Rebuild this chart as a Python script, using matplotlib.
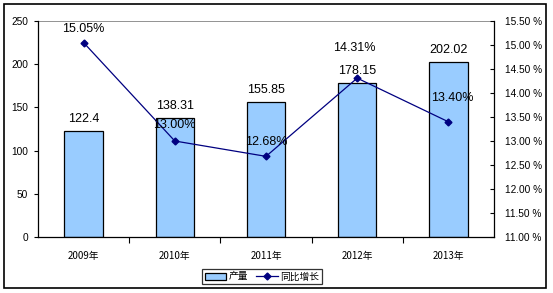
import matplotlib
matplotlib.use("Agg")
import matplotlib.pyplot as plt
from matplotlib.patches import Rectangle
from matplotlib.lines import Line2D

years = ["2009年", "2010年", "2011年", "2012年", "2013年"]
output = [122.4, 138.31, 155.85, 178.15, 202.02]
growth = [15.05, 13.00, 12.68, 14.31, 13.40]
left_ticks = [0, 50, 100, 150, 200, 250]
right_ticks = [11.0, 11.5, 12.0, 12.5, 13.0, 13.5, 14.0, 14.5, 15.0, 15.5]

# label offsets (pixels) for growth labels
pct_offsets = [(0, 14), (0, 16), (0, 14), (-3, 30), (4, 24)]

W, H = 553, 293
fig = plt.figure(figsize=(W / 100, H / 100), dpi=100)
fig.patch.set_facecolor("white")
fig.patches.append(Rectangle((4 / W, 1 - 288 / H), (546 - 4) / W, (288 - 4) / H,
                             transform=fig.transFigure, fill=False, edgecolor="black", lw=1.2))

font = "Liberation Sans"
cjk = ["Noto Sans CJK SC", "DejaVu Sans"]

ax = fig.add_axes([38 / W, 1 - 237 / H, (494 - 38) / W, (237 - 21) / H])
x = list(range(len(years)))
bars = ax.bar(x, output, width=0.42, color="#99CCFF", edgecolor="black", lw=0.9, zorder=2)
ax.set_xlim(-0.5, len(years) - 0.5)
ax.set_ylim(0, 250)
ax.set_yticks(left_ticks)
ax.set_yticklabels([str(t) for t in left_ticks], fontsize=7.3, family=font)
ax.set_xticks([i + 0.5 for i in range(len(years) - 1)])
ax.set_xticklabels([])
ax.set_xticks(x, minor=True)
ax.set_xticklabels(years, minor=True, fontsize=7, family=cjk)
ax.tick_params(axis="x", which="minor", length=0, pad=10)
ax.tick_params(axis="x", which="major", length=4, direction="out", width=0.8)
ax.tick_params(axis="y", length=3, direction="out", width=0.8, pad=4)
ax.axhline(250, color="#808080", lw=1.2, zorder=1)
for s in ["top", "right"]:
    ax.spines[s].set_visible(False)
for s in ["left", "bottom"]:
    ax.spines[s].set_linewidth(0.9)

for xi, v in zip(x, output):
    ax.annotate(f"{v:g}", (xi, v), xytext=(0, 12 * 0.72), textcoords="offset points",
                ha="center", va="center", fontsize=9, family=font)

ax2 = ax.twinx()
ax2.set_ylim(11.0, 15.5)
ax2.set_yticks(right_ticks)
ax2.set_yticklabels([f"{t:.2f} %" for t in right_ticks], fontsize=7.3, family=font)
ax2.tick_params(axis="y", length=3, direction="in", width=0.8, pad=8)
for s in ["top", "left", "bottom"]:
    ax2.spines[s].set_visible(False)
ax2.spines["right"].set_linewidth(0.9)
ax2.plot(x, growth, color="#000080", lw=0.9, marker="D", ms=3.5, zorder=3)
for xi, g, (dx, dy) in zip(x, growth, pct_offsets):
    ax2.annotate(f"{g:.2f}%", (xi, g), xytext=(dx * 0.72, dy * 0.72), textcoords="offset points",
                 ha="center", va="center", fontsize=9, family=font)

handles = [Rectangle((0, 0), 1, 1, facecolor="#99CCFF", edgecolor="black", lw=0.9),
           Line2D([], [], color="#000080", lw=0.9, marker="D", ms=3.5)]
leg = fig.legend(handles, ["产量", "同比增长"], loc="center",
                 bbox_to_anchor=((202 + 322) / 2 / W, 1 - (268 + 285) / 2 / H),
                 ncol=2, fontsize=7, prop={"family": cjk, "size": 7}, frameon=True, fancybox=False,
                 edgecolor="black", handlelength=2.2, handleheight=0.7, columnspacing=0.8,
                 handletextpad=0.3, borderpad=0.25, borderaxespad=0)
leg.get_frame().set_linewidth(0.9)

fig.savefig("out.png", dpi=100)
